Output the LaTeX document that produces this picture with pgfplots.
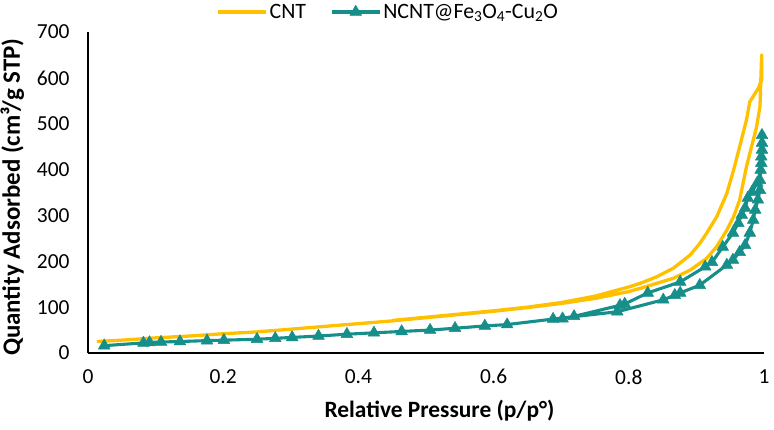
\documentclass[border=0pt]{standalone}
\usepackage{pgfplots}
\pgfplotsset{compat=1.18}
\usepackage{fontspec}
\setmainfont{Carlito}
\definecolor{cntgold}{RGB}{255,192,0}
\definecolor{ncntteal}{RGB}{22,143,138}

% N2 isotherms: adsorption branch followed by desorption branch
\pgfplotstableread{
p q
0.013 25
0.05 28
0.10 33
0.15 37
0.20 42
0.25 46
0.30 52
0.35 58
0.40 64
0.45 70
0.50 77
0.55 84
0.60 91
0.65 99
0.70 108
0.75 119
0.80 134
0.817 141
0.866 163
0.891 181
0.915 206
0.930 232
0.945 268
0.955 297
0.964 334
0.969 370
0.974 406
0.979 435
0.984 464
0.989 493
0.994 537
0.995 581
0.9965 650
0.9965 595
0.9915 577
0.979 548
0.974 508
0.964 450
0.955 399
0.945 348
0.930 297
0.915 261
0.905 239
0.891 214
0.866 185
0.841 166
0.817 152
0.80 144
0.75 124
0.70 110
0.65 100
0.60 92
0.55 85
0.50 78
0.45 71
}\cnt

\pgfplotstableread{
p q
0.024 16
0.082 22
0.091 23
0.108 24
0.136 25
0.176 27
0.201 28
0.250 30
0.277 32
0.302 34
0.341 37
0.383 41
0.423 44
0.464 47
0.506 50
0.543 54
0.587 59
0.620 62
0.688 74
0.783 90
0.851 116
0.868 126
0.876 131
0.905 148
0.945 192
0.954 203
0.964 220
0.972 235
0.979 262
0.984 290
0.987 312
0.991 334
0.994 355
0.994 377
0.996 414
0.997 443
0.997 475
0.997 458
0.996 428
0.995 399
0.990 371
0.982 351
0.976 338
0.972 316
0.967 301
0.962 283
0.954 262
0.939 231
0.923 198
0.913 188
0.876 155
0.828 131
0.794 107
0.787 104
0.719 80
0.702 75
}\ncnt

\begin{document}
\begin{tikzpicture}
\useasboundingbox (-88bp,-77bp) rectangle (686bp,353bp);
\begin{axis}[
  at={(0,0)}, anchor=south west,
  scale only axis, width=676bp, height=321bp,
  xmin=0, xmax=1, ymin=0, ymax=700,
  xtick={0,0.2,0.4,0.6,0.8,1},
  ytick={0,100,200,300,400,500,600,700},
  axis x line*=bottom, axis y line*=left,
  axis line style={line width=1.4bp, black, -},
  major tick length=0,
  tick label style={font=\fontsize{21.5}{24}\selectfont,
    /pgf/number format/assume math mode=true},
  xticklabel style={yshift=-13bp},
  yticklabel style={xshift=-15bp},
  xlabel={Relative Pressure (p/p°)},
  ylabel={Quantity Adsorbed (cm³/g STP)},
  xlabel style={font=\fontsize{23.5}{27}\selectfont\bfseries,
    at={(axis description cs:0.52,-0.18)}, anchor=center},
  ylabel style={font=\fontsize{25}{29}\selectfont\bfseries,
    at={(axis description cs:-0.112,0.485)}, anchor=center},
  legend columns=2,
  legend style={at={(axis description cs:0.444,1.0623)}, anchor=center,
    draw=none, fill=none, font=\fontsize{22}{25}\selectfont,
    /tikz/every even column/.append style={column sep=22bp}},
  legend image code/.code={\draw[mark repeat=2,mark phase=2,#1]
    plot coordinates {(0bp,0bp) (24bp,0bp) (48bp,0bp)};},
]
\addplot[cntgold, line width=3.3bp, line join=round] table[x=p, y=q] {\cnt};
\addlegendentry{CNT}
\addplot[ncntteal, line width=3.1bp, line join=round, mark=triangle*,
  mark size=6.8bp, mark options={fill=ncntteal, draw=ncntteal, line width=0.5bp}]
  table[x=p, y=q] {\ncnt};
\addlegendentry{NCNT@Fe\textsubscript{3}O\textsubscript{4}-Cu\textsubscript{2}O}
\end{axis}
\end{tikzpicture}
\end{document}
